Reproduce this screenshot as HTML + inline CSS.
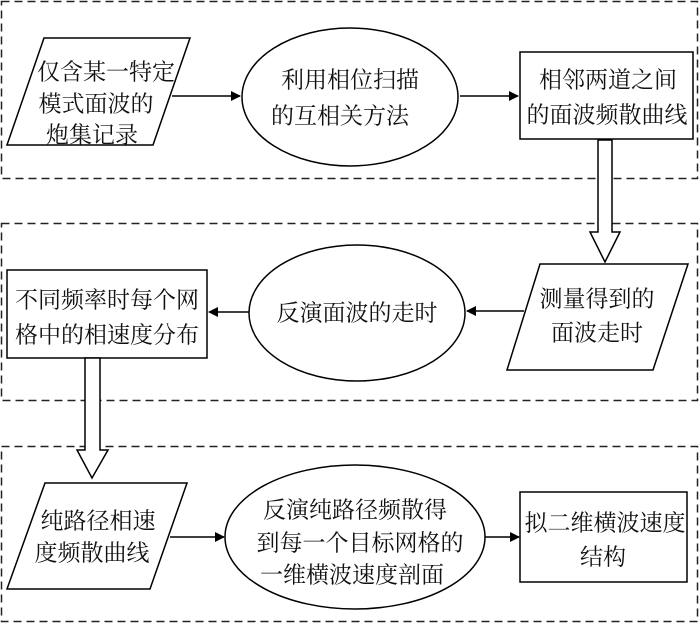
<!DOCTYPE html>
<html><head><meta charset="utf-8"><style>
html,body{margin:0;padding:0;background:#fff;}
svg text{font-family:"Liberation Serif","Noto Serif CJK SC",serif;font-size:23px;fill:#111;text-anchor:middle;dominant-baseline:central;}
</style></head><body>
<svg width="700" height="626" viewBox="0 0 700 626" xmlns="http://www.w3.org/2000/svg">
<defs><marker id="a" markerWidth="10" markerHeight="10" refX="9" refY="5" orient="auto" markerUnits="userSpaceOnUse"><path d="M0,0 L10,5 L0,10 z" fill="#000"/></marker></defs>
<g fill="none" stroke="#222" stroke-width="1.5" stroke-dasharray="8,5">
<rect x="1.5" y="1.5" width="696" height="177"/>
<rect x="1.5" y="223.5" width="696" height="177"/>
<rect x="1.5" y="446.5" width="696" height="175"/>
</g>
<g fill="#fff" stroke="#000" stroke-width="1.5">
<polygon points="44,38 190,38 153,145 7,145"/>
<ellipse cx="350" cy="97" rx="108" ry="69"/>
<rect x="520" y="52" width="173" height="87"/>
<polygon points="540,264 688,264 653,370 507,370"/>
<ellipse cx="357" cy="313" rx="108" ry="68"/>
<rect x="7" y="270" width="200" height="88"/>
<polygon points="45,483 187,483 150,589 7,589"/>
<ellipse cx="355" cy="537" rx="130" ry="72"/>
<rect x="520" y="492" width="167" height="90"/>
<polygon points="598,140 612,140 612,232 620,232 605,262 590,232 598,232"/>
<polygon points="85,358 100,358 100,450 108,450 92,478 77,450 85,450"/>
</g>
<g stroke="#000" stroke-width="1.5">
<line x1="172" y1="96" x2="240" y2="96" marker-end="url(#a)"/>
<line x1="460" y1="96" x2="518" y2="96" marker-end="url(#a)"/>
<line x1="524" y1="311" x2="467" y2="311" marker-end="url(#a)"/>
<line x1="249" y1="312" x2="209" y2="312" marker-end="url(#a)"/>
<line x1="170" y1="537" x2="224" y2="537" marker-end="url(#a)"/>
<line x1="485" y1="537" x2="519" y2="537" marker-end="url(#a)"/>
</g>
<text x="106" y="72">仅含某一特定</text>
<text x="96" y="104">模式面波的</text>
<text x="92" y="135">炮集记录</text>
<text x="350" y="80">利用相位扫描</text>
<text x="340" y="116">的互相关方法</text>
<text x="608" y="80">相邻两道之间</text>
<text x="607" y="115">的面波频散曲线</text>
<text x="597" y="299">测量得到的</text>
<text x="597" y="333">面波走时</text>
<text x="357" y="313">反演面波的走时</text>
<text x="107" y="300">不同频率时每个网</text>
<text x="107" y="335">格中的相速度分布</text>
<text x="98" y="521">纯路径相速</text>
<text x="92" y="553">度频散曲线</text>
<text x="355" y="510">反演纯路径频散得</text>
<text x="360" y="543">到每一个目标网格的</text>
<text x="352" y="575">一维横波速度剖面</text>
<text x="605" y="523">拟二维横波速度</text>
<text x="603" y="557">结构</text>
</svg>
</body></html>
